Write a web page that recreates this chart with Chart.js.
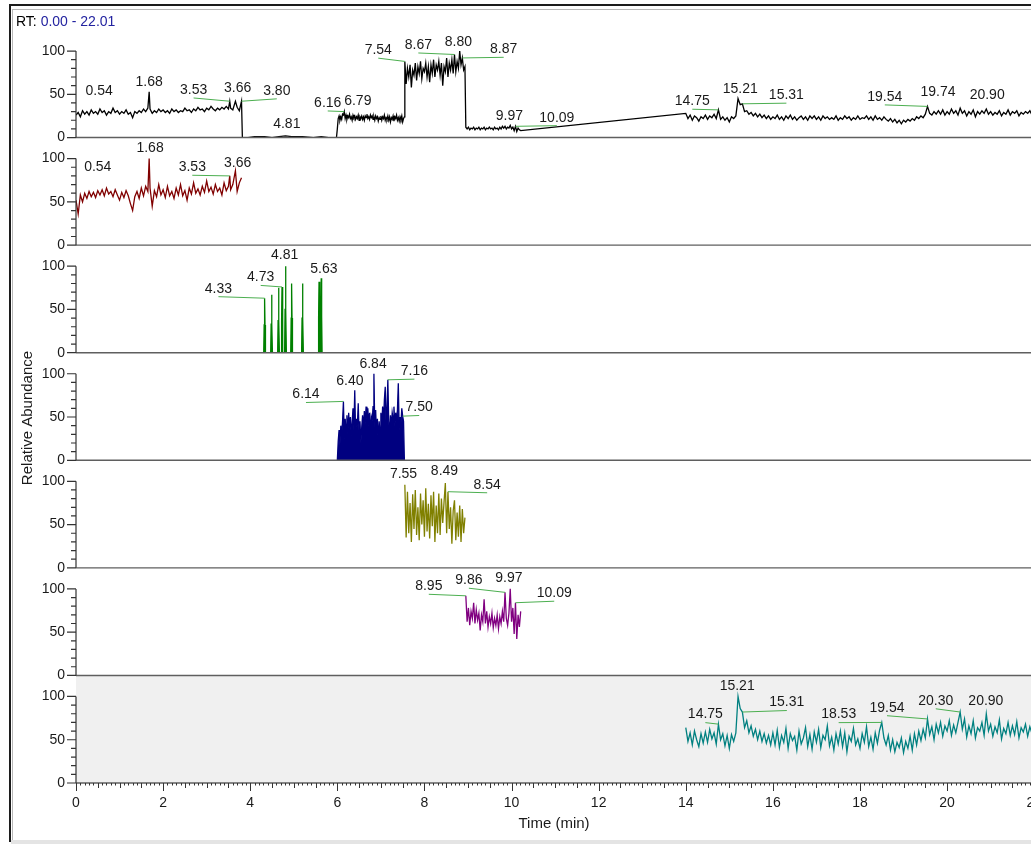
<!DOCTYPE html>
<html><head><meta charset="utf-8">
<script src="https://cdn.jsdelivr.net/npm/chart.js@4.4.1/dist/chart.umd.min.js"></script>
<style>html,body{margin:0;padding:0;overflow:hidden;background:#fff;width:1031px;height:844px}canvas{display:block}</style>
</head><body><canvas id="c" width="1054" height="844"></canvas>
<script>
// ---------------- DATA ----------------
const rtRange = '0.00 - 22.01';
const xTickValues = [0,2,4,6,8,10,12,14,16,18,20,22];
const yTickValues = [0,50,100];

// segment A (0.00-3.80 min)
const tA = [0.00,0.05,0.10,0.15,0.20,0.25,0.30,0.35,0.40,0.45,
 0.50,0.55,0.60,0.65,0.70,0.75,0.80,0.85,0.90,0.95,
 1.00,1.05,1.10,1.15,1.20,1.25,1.30,1.35,1.40,1.45,
 1.50,1.55,1.60,1.65,1.68,1.70,1.75,1.80,1.85,1.90,
 1.95,2.00,2.05,2.10,2.15,2.20,2.25,2.30,2.35,2.40,
 2.45,2.50,2.55,2.60,2.65,2.70,2.75,2.80,2.85,2.90,
 2.95,3.00,3.05,3.10,3.15,3.20,3.25,3.30,3.35,3.40,
 3.45,3.50,3.53,3.55,3.60,3.66,3.70,3.75,3.80];
const ticA = [26,29,24,31,27,30,26,32,28,30,
 27,33,29,31,26,30,28,34,29,31,
 27,30,28,32,27,29,23,30,28,31,
 29,33,30,34,53,33,28,31,29,33,
 30,32,29,31,28,33,30,32,29,31,
 30,34,31,32,29,33,31,35,32,33,
 30,34,32,36,33,31,34,32,35,33,
 36,33,42,34,32,42,35,31,42];
const redA = [52,36,58,50,60,54,62,56,61,55,
 63,58,64,57,66,59,62,56,64,58,
 52,61,55,63,57,48,40,56,62,54,
 66,57,68,62,100,66,45,63,56,70,
 58,64,55,68,57,62,54,66,58,70,
 57,63,52,66,59,72,60,65,58,68,
 61,74,62,67,59,70,62,66,58,72,
 63,68,80,64,70,86,62,72,78];

// segment B (3.80-6.00 min)
const tB = [3.82,3.95,4.10,4.33,4.50,4.66,4.81,4.95,5.20,5.45,5.63,5.80,5.98];
const ticB = [0,0,1,1,0,1,2,1,1,0,1,0,0];
const tGreen = [3.84,
 4.31,4.32,4.33,4.34,4.35, 4.47,4.48,4.49,4.50,4.51,
 4.63,4.64,4.65,4.66,4.67, 4.71,4.72,4.73,4.74,4.75,
 4.79,4.80,4.81,4.82,4.83, 4.93,4.94,4.95,4.96,4.97,
 5.18,5.19,5.20,5.21,5.22, 5.56,5.57,5.58,5.59,5.60,
 5.61,5.62,5.63,5.64,5.65, 5.90];
const green = [0,
 0,32,63,32,0, 0,33,67,33,0,
 0,37,75,37,0, 0,36,76,36,0,
 0,50,100,50,0, 0,40,80,40,0,
 0,40,80,40,0, 0,41,82,41,0,
 0,42,86,42,0, 0];

// segment C (6.00-7.54 min)
const tC = [6.00,6.02,6.04,6.06,6.08,6.10,6.12,6.14,6.16,6.18,
 6.20,6.22,6.24,6.26,6.28,6.30,6.32,6.34,6.36,6.38,
 6.40,6.42,6.44,6.46,6.48,6.50,6.52,6.54,6.56,6.58,
 6.60,6.62,6.64,6.66,6.68,6.70,6.72,6.74,6.76,6.78,
 6.80,6.82,6.84,6.86,6.88,6.90,6.92,6.94,6.96,6.98,
 7.00,7.02,7.04,7.06,7.08,7.10,7.12,7.14,7.16,7.18,
 7.20,7.22,7.24,7.26,7.28,7.30,7.32,7.34,7.36,7.38,
 7.40,7.42,7.44,7.46,7.48,7.50,7.52,7.54];
const ticC = [10,22,25,20,24,21,27,26,30,22,
 26,21,25,23,27,22,24,20,26,23,
 25,21,24,22,26,20,24,22,25,21,
 24,20,25,23,27,22,24,21,26,23,
 25,21,24,20,25,22,24,19,23,21,
 25,20,24,22,26,20,23,21,25,20,
 24,18,23,21,25,19,24,22,26,20,
 23,19,24,21,25,18,22,24];
const navy = [0,22,35,18,40,28,45,68,25,48,
 35,52,30,55,38,50,28,44,60,35,
 81,30,48,40,66,30,45,20,38,52,
 35,57,42,62,48,60,40,55,28,50,
 45,62,100,38,58,30,48,20,45,32,
 55,40,62,45,70,85,40,60,93,45,
 30,52,38,55,48,62,40,55,45,58,
 89,35,50,42,60,51,45,0];

// segment D (7.55-8.93 min)
const tD = [7.55,7.58,7.61,7.64,7.67,7.70,7.73,7.76,7.79,7.82,
 7.85,7.88,7.91,7.94,7.97,8.00,8.03,8.06,8.09,8.12,
 8.15,8.18,8.21,8.24,8.27,8.30,8.33,8.36,8.39,8.42,
 8.45,8.48,8.51,8.54,8.57,8.60,8.63,8.66,8.69,8.72,
 8.75,8.78,8.81,8.84,8.87,8.90,8.93];
const ticD = [88,62,80,70,84,58,78,72,86,66,
 82,74,88,68,80,76,86,70,82,64,
 84,74,90,70,84,78,88,72,86,60,
 82,76,92,70,86,78,90,74,96,76,
 88,80,100,84,92,78,82];
const olive = [96,35,88,40,75,30,85,45,90,38,
 70,32,86,50,78,36,92,42,74,34,
 84,48,88,30,72,40,86,38,80,52,
 76,98,40,88,45,70,28,66,78,32,
 64,36,72,30,68,40,58];

// segment E (8.95-10.21 min)
const tE = [8.95,8.98,9.01,9.04,9.07,9.10,9.13,9.16,9.19,9.22,
 9.25,9.28,9.31,9.34,9.37,9.40,9.43,9.46,9.49,9.52,
 9.55,9.58,9.61,9.64,9.67,9.70,9.73,9.76,9.79,9.82,
 9.85,9.88,9.91,9.94,9.97,10.00,10.03,10.06,10.09,10.12,
 10.15,10.18,10.21];
const ticE = [12,10,12,9,11,10,12,9,11,10,
 12,9,11,10,12,9,11,10,12,10,
 11,9,12,10,11,9,12,10,13,11,
 13,10,12,11,14,10,12,8,13,7,
 11,9,8];
const purple = [92,62,78,58,74,66,84,60,76,64,
 72,52,70,62,88,60,74,56,68,60,
 72,55,66,58,70,54,68,60,74,62,
 96,66,58,72,100,62,78,48,84,42,
 70,56,74];

// segment F (14.00-22.00 min)
const tF = [14.00,14.05,14.10,14.15,14.20,14.25,14.30,14.35,14.40,14.45,
 14.50,14.55,14.60,14.65,14.70,14.75,14.80,14.85,14.90,14.95,
 15.00,15.05,15.10,15.15,15.20,15.25,15.30,15.35,15.40,15.45,
 15.50,15.55,15.60,15.65,15.70,15.75,15.80,15.85,15.90,15.95,
 16.00,16.05,16.10,16.15,16.20,16.25,16.30,16.35,16.40,16.45,
 16.50,16.55,16.60,16.65,16.70,16.75,16.80,16.85,16.90,16.95,
 17.00,17.05,17.10,17.15,17.20,17.25,17.30,17.35,17.40,17.45,
 17.50,17.55,17.60,17.65,17.70,17.75,17.80,17.85,17.90,17.95,
 18.00,18.05,18.10,18.15,18.20,18.25,18.30,18.35,18.40,18.45,
 18.50,18.55,18.60,18.65,18.70,18.75,18.80,18.85,18.90,18.95,
 19.00,19.05,19.10,19.15,19.20,19.25,19.30,19.35,19.40,19.45,
 19.50,19.55,19.60,19.65,19.70,19.75,19.80,19.85,19.90,19.95,
 20.00,20.05,20.10,20.15,20.20,20.25,20.30,20.35,20.40,20.45,
 20.50,20.55,20.60,20.65,20.70,20.75,20.80,20.85,20.90,20.95,
 21.00,21.05,21.10,21.15,21.20,21.25,21.30,21.35,21.40,21.45,
 21.50,21.55,21.60,21.65,21.70,21.75,21.80,21.85,21.90,21.95,
 22.00];
const ticF = [28,22,26,20,25,23,19,24,22,26,
 21,25,23,27,22,32,21,24,20,23,
 18,24,22,25,45,38,39,30,31,27,
 29,25,28,24,27,23,26,22,25,21,
 24,22,26,21,24,20,25,22,26,21,
 24,20,23,25,21,24,20,25,22,25,
 21,24,20,25,22,24,21,23,21,25,
 20,23,21,25,22,24,20,23,21,25,
 21,23,22,25,21,24,20,25,21,23,
 20,24,21,19,22,18,21,17,20,16,
 20,18,21,19,22,20,24,22,25,23,
 27,36,28,26,30,27,31,27,32,26,
 30,27,33,28,31,26,34,28,31,25,
 30,27,32,24,30,27,31,28,33,27,
 30,26,29,27,31,25,29,27,32,26,
 30,28,31,25,29,27,30,28,31,26,
 29];
const teal = [64,48,58,44,60,50,42,57,46,59,
 47,62,51,58,45,68,50,57,43,55,
 40,56,48,58,100,86,82,64,72,58,
 66,54,62,50,60,48,57,46,55,44,
 58,44,61,41,55,47,63,40,57,49,
 54,38,60,45,52,64,42,56,39,59,
 47,62,41,55,50,66,43,53,38,57,
 45,60,42,58,36,54,48,63,44,51,
 40,57,47,65,42,53,39,58,46,61,
 70,52,44,55,38,50,36,47,41,52,
 35,48,40,54,38,57,44,60,49,62,
 52,74,56,65,50,68,58,70,54,66,
 60,72,55,67,58,70,82,62,74,53,
 66,57,72,52,64,60,70,55,80,60,
 68,54,65,58,73,51,63,57,70,55,
 66,56,71,52,64,59,68,54,65,57,
 62];

// peak labels: [panel, text, peak RT, peak value, label RT, label value, leader]
const peakLabels = [
 [1,'0.54',0.54,33,0.53,54,0],[1,'1.68',1.68,53,1.68,64,0],[1,'3.53',3.53,42,2.70,55,1],
 [1,'3.66',3.66,42,3.71,57,0],[1,'3.80',3.80,42,4.61,54,1],[1,'4.81',4.81,3,4.84,15,0],
 [1,'6.16',6.16,30,5.78,40,1],[1,'6.79',6.79,27,6.47,42,0],[1,'7.54',7.55,88,6.94,101,1],
 [1,'8.67',8.69,96,7.86,107,1],[1,'8.80',8.81,100,8.78,110,0],[1,'8.87',8.87,92,9.82,102,1],
 [1,'9.97',9.97,14,9.95,25,0],[1,'10.09',10.09,13,11.04,23,1],[1,'14.75',14.75,32,14.15,42,1],
 [1,'15.21',15.20,45,15.25,56,0],[1,'15.31',15.30,39,16.31,49,1],[1,'19.54',19.55,36,18.57,47,1],
 [1,'19.74',19.74,31,19.79,52,0],[1,'20.90',20.90,33,20.92,49,0],
 [2,'0.54',0.54,64,0.50,90,0],[2,'1.68',1.68,100,1.70,112,0],[2,'3.53',3.53,80,2.67,90,1],
 [2,'3.66',3.66,86,3.71,95,0],
 [3,'4.33',4.33,63,3.27,74,1],[3,'4.73',4.73,76,4.24,87,1],[3,'4.81',4.81,100,4.79,113,0],
 [3,'5.63',5.63,86,5.69,97,0],
 [4,'6.14',6.14,68,5.28,76,1],[4,'6.40',6.40,81,6.29,91,0],[4,'6.84',6.84,100,6.82,111,0],
 [4,'7.16',7.16,93,7.77,103,1],[4,'7.50',7.50,51,7.88,61,1],
 [5,'7.55',7.55,96,7.52,108,0],[5,'8.49',8.48,98,8.46,112,0],[5,'8.54',8.54,88,9.44,96,1],
 [6,'8.95',8.95,92,8.10,103,1],[6,'9.86',9.85,96,9.02,110,1],[6,'9.97',9.97,100,9.94,112,0],
 [6,'10.09',10.09,84,10.98,95,1],
 [7,'14.75',14.75,68,14.45,79,1],[7,'15.21',15.20,100,15.18,112,0],[7,'15.31',15.30,82,16.32,93,1],
 [7,'18.53',18.50,70,17.51,79,1],[7,'19.54',19.55,74,18.62,87,1],[7,'20.30',20.30,82,19.74,95,1],
 [7,'20.90',20.90,80,20.89,95,0]
];

// ---------------- CHART ----------------
const FONT = '"Liberation Sans", Arial, sans-serif';
const pts = (t, v) => t.map((x, i) => ({x: x, y: v[i]}));
const traces = [
  {t: [...tA, ...tB, ...tC, ...tD, ...tE, ...tF], v: [...ticA, ...ticB, ...ticC, ...ticD, ...ticE, ...ticF], color: '#000000', fill: false},
  {t: tA, v: redA, color: '#800000', fill: false},
  {t: tGreen, v: green, color: '#008000', fill: 'origin'},
  {t: tC, v: navy, color: '#000080', fill: 'origin'},
  {t: tD, v: olive, color: '#808000', fill: false},
  {t: tE, v: purple, color: '#800080', fill: false},
  {t: tF, v: teal, color: '#008080', fill: false}
];
const datasets = traces.map((s, i) => ({
  data: pts(s.t, s.v), yAxisID: 'y' + (i + 1), borderColor: s.color, backgroundColor: s.color,
  borderWidth: 1.3, pointRadius: 0, tension: 0, fill: s.fill
}));

const scales = {
  x: {
    type: 'linear', min: 0, max: 22.01,
    afterBuildTicks: s => { s.ticks = xTickValues.map(v => ({value: v})); },
    afterFit: s => { s.height = 61; },
    grid: {display: false, drawTicks: false}, border: {display: false},
    ticks: {padding: 12, color: '#1a1a1a', font: {family: FONT, size: 14}, maxRotation: 0, autoSkip: false}
  }
};
for (let p = 1; p <= 7; p++) {
  scales['y' + p] = {
    type: 'linear', position: 'left', min: 0, max: 124.3, stack: 'panels', stackWeight: 1, weight: 8 - p,
    afterBuildTicks: s => { s.ticks = yTickValues.map(v => ({value: v})); },
    afterFit: s => { s.width = 66; },
    grid: {display: false, drawTicks: false}, border: {display: false},
    ticks: {padding: 11, color: '#1a1a1a', font: {family: FONT, size: 14}, autoSkip: false}
  };
}

const decor = {
  id: 'decor',
  beforeDraw(chart) {
    const {ctx, chartArea: ca} = chart;
    const s7 = chart.scales.y7;
    ctx.save();
    ctx.fillStyle = '#ffffff'; ctx.fillRect(0, 0, chart.width, chart.height);
    ctx.fillStyle = '#f0f0f0';
    ctx.fillRect(ca.left, s7.top, ca.right - ca.left, s7.getPixelForValue(0) - s7.top);
    ctx.restore();
  },
  afterDatasetsDraw(chart) {
    const {ctx, chartArea: ca, scales: sc} = chart;
    const xs = sc.x;
    ctx.save();
    for (let p = 1; p <= 7; p++) {
      const s = sc['y' + p];
      const y0 = s.getPixelForValue(0);
      ctx.strokeStyle = '#5f5f5f'; ctx.lineWidth = 1.4;
      ctx.beginPath(); ctx.moveTo(ca.left, y0); ctx.lineTo(ca.right, y0); ctx.stroke();
      ctx.strokeStyle = '#333333'; ctx.lineWidth = 1.2;
      ctx.beginPath();
      ctx.moveTo(ca.left, y0); ctx.lineTo(ca.left, s.getPixelForValue(100));
      for (let v = 0; v <= 100; v += 10) {
        const y = s.getPixelForValue(v);
        const len = v % 50 === 0 ? 9 : 5;
        ctx.moveTo(ca.left - len, y); ctx.lineTo(ca.left, y);
      }
      ctx.stroke();
    }
    // x ticks
    const yb = sc.y7.getPixelForValue(0);
    ctx.strokeStyle = '#333333'; ctx.lineWidth = 1;
    ctx.beginPath();
    for (let k = 0; k <= 220; k++) {
      const x = Math.round(xs.getPixelForValue(k / 10)) + 0.5;
      const len = k % 20 === 0 ? 8 : (k % 5 === 0 ? 5 : 2.5);
      ctx.moveTo(x, yb); ctx.lineTo(x, yb + len);
    }
    ctx.stroke();
    // peak labels
    ctx.font = '14px ' + FONT; ctx.textAlign = 'center'; ctx.textBaseline = 'middle';
    for (const [p, text, pt, pv, lt, lv, lead] of peakLabels) {
      const s = sc['y' + p];
      const px = xs.getPixelForValue(pt), py = s.getPixelForValue(pv);
      const lx = xs.getPixelForValue(lt), ly = s.getPixelForValue(lv);
      if (lead) {
        ctx.strokeStyle = '#4caf50'; ctx.lineWidth = 1;
        ctx.beginPath(); ctx.moveTo(lx, ly + 8); ctx.lineTo(px, py); ctx.stroke();
      }
      ctx.fillStyle = '#1a1a1a'; ctx.fillText(text, lx, ly);
    }
    // axis titles
    ctx.font = '15px ' + FONT; ctx.fillStyle = '#1a1a1a';
    ctx.fillText('Time (min)', 554, 824);
    ctx.save(); ctx.translate(28, 418); ctx.rotate(-Math.PI / 2);
    ctx.fillText('Relative Abundance', 0, 0); ctx.restore();
    // RT header
    ctx.font = '14px ' + FONT; ctx.textAlign = 'left';
    ctx.fillStyle = '#000000'; ctx.fillText('RT:', 16, 22);
    const w = ctx.measureText('RT: ').width;
    ctx.fillStyle = '#2323a0'; ctx.fillText(rtRange, 16 + w, 22);
    // frame
    ctx.fillStyle = '#1c1c1c';
    ctx.fillRect(9, 4, chart.width, 2);
    ctx.fillRect(9, 4, 2, 838);
    ctx.fillStyle = '#b8b8b8';
    ctx.fillRect(12, 9, chart.width, 1);
    ctx.fillRect(12, 9, 1, 831);
    ctx.fillStyle = '#e4e4e4';
    ctx.fillRect(11, 840, chart.width, 4);
    ctx.restore();
  }
};

new Chart(document.getElementById('c'), {
  type: 'line',
  data: {datasets: datasets},
  options: {
    responsive: false, animation: false,
    layout: {padding: {left: 10, top: 30, right: 14, bottom: 0}},
    plugins: {legend: {display: false}, tooltip: {enabled: false}},
    scales: scales
  },
  plugins: [decor]
});
</script></body></html>
